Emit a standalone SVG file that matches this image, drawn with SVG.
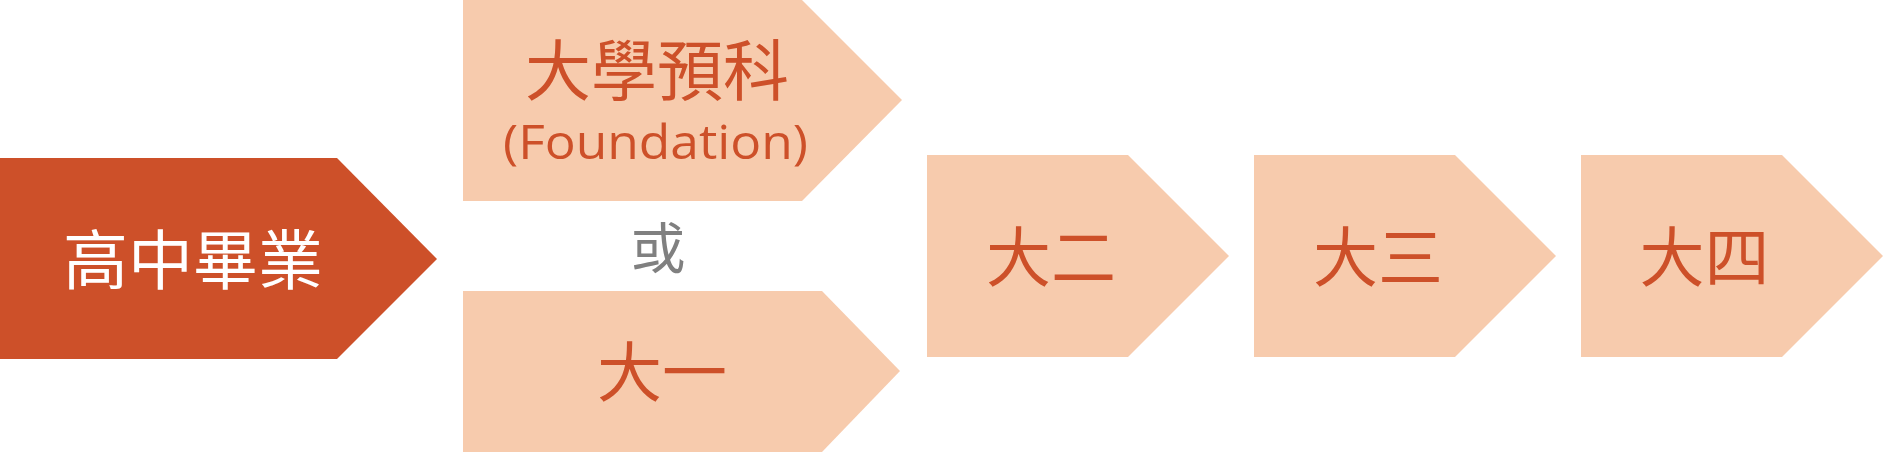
<svg xmlns="http://www.w3.org/2000/svg" width="1883" height="452" viewBox="0 0 1883 452">
<style>
.dark{fill:#CD5029}
.light{fill:#F7CBAD}
.cjk{font-family:"Noto Sans CJK TC","Noto Sans CJK SC",sans-serif;text-anchor:middle}
.w{fill:#FFFFFF}
.o{fill:#CD5029}
.g{fill:#808080}
.lat{font-family:"Open Sans","Noto Sans",sans-serif;text-anchor:middle;fill:#CD5029}
</style>
<rect width="1883" height="452" fill="#FFFFFF"/>
<g id="node-highschool">
<polygon class="dark" points="0,158 337,158 437,259 337,359 0,359"/>
<text class="cjk w" x="193" y="284" font-size="65">高中畢業</text>
</g>
<g id="node-foundation">
<polygon class="light" points="463,0 802,0 902,100 802,201 463,201"/>
<text class="cjk o" x="657" y="95" font-size="66">大學預科</text>
<text class="lat" x="655.5" y="159" font-size="48" textLength="305" lengthAdjust="spacingAndGlyphs">(Foundation)</text>
</g>
<g id="label-or">
<text class="cjk g" x="658" y="268" font-size="55">或</text>
</g>
<g id="node-year1">
<polygon class="light" points="463,291 822,291 900,371 822,452 463,452"/>
<text class="cjk o" x="662" y="396" font-size="65">大一</text>
</g>
<g id="node-year2">
<polygon class="light" points="927,155 1128,155 1229,256 1128,357 927,357"/>
<text class="cjk o" x="1051" y="281" font-size="65">大二</text>
</g>
<g id="node-year3">
<polygon class="light" points="1254,155 1455,155 1556,256 1455,357 1254,357"/>
<text class="cjk o" x="1378" y="281" font-size="65">大三</text>
</g>
<g id="node-year4">
<polygon class="light" points="1581,155 1782,155 1883,256 1782,357 1581,357"/>
<text class="cjk o" x="1704.5" y="281" font-size="65">大四</text>
</g>
<g id="connectors"></g>
</svg>
